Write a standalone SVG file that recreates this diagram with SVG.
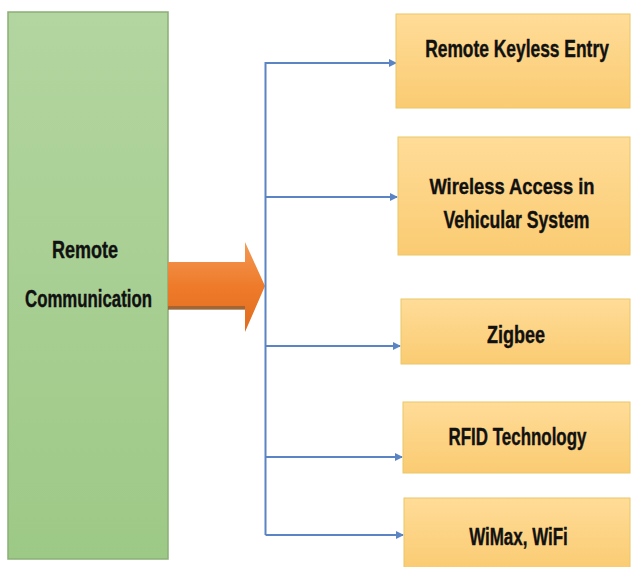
<svg xmlns="http://www.w3.org/2000/svg" width="631" height="567" viewBox="0 0 631 567">
<defs>
<linearGradient id="gGreen" x1="0" y1="0" x2="0" y2="1">
<stop offset="0" stop-color="#B3D5A0"/>
<stop offset="1" stop-color="#9DC986"/>
</linearGradient>
<linearGradient id="gOrange" x1="0" y1="0" x2="0" y2="1">
<stop offset="0" stop-color="#FFDC98"/>
<stop offset="1" stop-color="#FACB72"/>
</linearGradient>
<linearGradient id="gArrow" x1="0" y1="0" x2="0" y2="1">
<stop offset="0" stop-color="#F39A55"/>
<stop offset="0.5" stop-color="#EE7A2A"/>
<stop offset="1" stop-color="#E06C1E"/>
</linearGradient>
<marker id="ah" markerWidth="8" markerHeight="8" refX="7" refY="4" orient="auto" markerUnits="userSpaceOnUse">
<path d="M0,0 L8,4 L0,8 Z" fill="#5B84C4"/>
</marker>
<style>
.green{fill:url(#gGreen);stroke:#8AAE76;stroke-width:1.5}
.box{fill:url(#gOrange);stroke:#EAC867;stroke-width:1}
.t{font-family:"Liberation Sans",Arial,sans-serif;font-weight:bold;font-size:23px;fill:#111;stroke:#111;stroke-width:0.4;text-anchor:middle}
.c{fill:none;stroke:#5B84C4;stroke-width:2}
</style>
</defs>
<g id="remote-communication">
<rect class="green" x="8" y="12" width="160" height="547"/>
<text class="t" transform="translate(85,258) scale(0.783,1)">Remote</text>
<text class="t" transform="translate(88.5,307) scale(0.731,1)">Communication</text>
</g>
<g id="big-arrow">
<path d="M168,262 L245,262 L245,242 L265,286 L245,332 L245,309 L168,309 Z" fill="url(#gArrow)"/>
<path d="M168,306 L245,306 L245,310 L168,310 Z" fill="#7A5A3A" opacity="0.6"/>
</g>
<g id="connectors">
<path class="c" d="M265.5,62 L265.5,535"/>
<path class="c" d="M265.5,63 L396,63" marker-end="url(#ah)"/>
<path class="c" d="M265.5,197 L397,197" marker-end="url(#ah)"/>
<path class="c" d="M265.5,346 L400,346" marker-end="url(#ah)"/>
<path class="c" d="M265.5,457 L402,457" marker-end="url(#ah)"/>
<path class="c" d="M265.5,535 L403,535" marker-end="url(#ah)"/>
</g>
<g id="remote-keyless-entry">
<rect class="box" x="396" y="14" width="234" height="94"/>
<text class="t" transform="translate(517,57) scale(0.757,1)">Remote Keyless Entry</text>
</g>
<g id="wireless-access">
<rect class="box" x="398" y="137" width="232" height="118"/>
<text class="t" transform="translate(512,194) scale(0.797,1)">Wireless Access in</text>
<text class="t" transform="translate(516.5,228) scale(0.767,1)">Vehicular System</text>
</g>
<g id="zigbee">
<rect class="box" x="401" y="299" width="229" height="65"/>
<text class="t" transform="translate(516,343) scale(0.782,1)">Zigbee</text>
</g>
<g id="rfid">
<rect class="box" x="403" y="402" width="227" height="71"/>
<text class="t" transform="translate(517.5,445) scale(0.736,1)">RFID Technology</text>
</g>
<g id="wimax-wifi">
<rect class="box" x="404" y="498" width="226" height="72"/>
<text class="t" transform="translate(518.5,545) scale(0.738,1)">WiMax, WiFi</text>
</g>
</svg>
